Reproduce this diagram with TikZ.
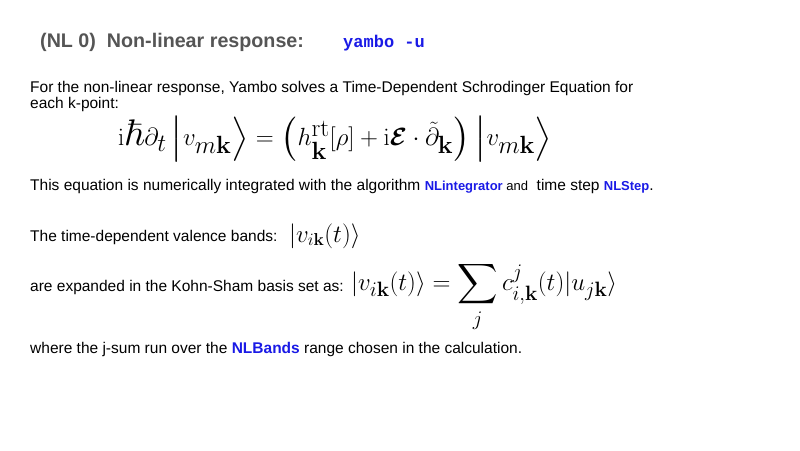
\documentclass[tikz,border=0pt]{standalone}
\usepackage{amsmath,amssymb,bm}
\usepackage[no-math]{fontspec}
\setmainfont{Liberation Sans}
\setmonofont{Liberation Mono}
\definecolor{tgray}{HTML}{555555}
\definecolor{kw}{HTML}{1A1AE6}
\begin{document}
\begin{tikzpicture}[x=1pt,y=-1pt,
  txt/.style={anchor=base west,inner sep=0pt,font=\fontsize{15.5}{18}\selectfont},
  eq/.style={inner sep=0pt}]
\useasboundingbox[fill=white] (0,0) rectangle (800,450);
\node[anchor=base west,inner sep=0pt,text=tgray,font=\fontsize{19.7}{22}\selectfont\bfseries] (title) at (40,47) {(NL 0)\ \ Non-linear response:};
\node[anchor=base west,inner sep=0pt,text=kw,font=\fontsize{17}{20}\selectfont\ttfamily\bfseries] (cmd) at (343,47) {yambo -u};
\node[txt] (l1) at (30,92) {For the non-linear response, Yambo solves a Time-Dependent Schrodinger Equation for};
\node[txt] (l2) at (30,108) {each k-point:};
\node[eq,anchor=west,font=\fontsize{37}{42}\selectfont] (eq1) at (118,139) {$\mathrm{i}\hbar\partial_t\left|v_{m\mathbf{k}}\right\rangle=\Bigl(h^{\mathrm{rt}}_{\mathbf{k}}[\rho]+\mathrm{i}\bm{\mathcal{E}}\cdot\tilde{\partial}_{\mathbf{k}}\Bigr)\left|v_{m\mathbf{k}}\right\rangle$};
\node[txt] (l3) at (30,190) {This equation is numerically integrated with the algorithm {\color{kw}\bfseries\fontsize{13}{15}\selectfont NLintegrator}{\fontsize{13}{15}\selectfont\ and}\ \ time step {\color{kw}\bfseries\fontsize{13}{15}\selectfont NLStep}.};
\node[txt] (l4) at (30,241) {The time-dependent valence bands:};
\node[eq,anchor=west,font=\fontsize{27}{30}\selectfont] (eq2) at (289,236) {$\left|v_{i\mathbf{k}}(t)\right\rangle$};
\node[txt] (l5) at (30,291) {are expanded in the Kohn-Sham basis set as:};
\node[eq,anchor=west,font=\fontsize{28}{32}\selectfont] (eq3) at (351,297) {$\displaystyle\left|v_{i\mathbf{k}}(t)\right\rangle=\sum_j c^{j}_{i,\mathbf{k}}(t)|u_{j\mathbf{k}}\rangle$};
\node[txt] (l6) at (30,353) {where the j-sum run over the {\color{kw}\bfseries NLBands} range chosen in the calculation.};
\end{tikzpicture}
\end{document}
